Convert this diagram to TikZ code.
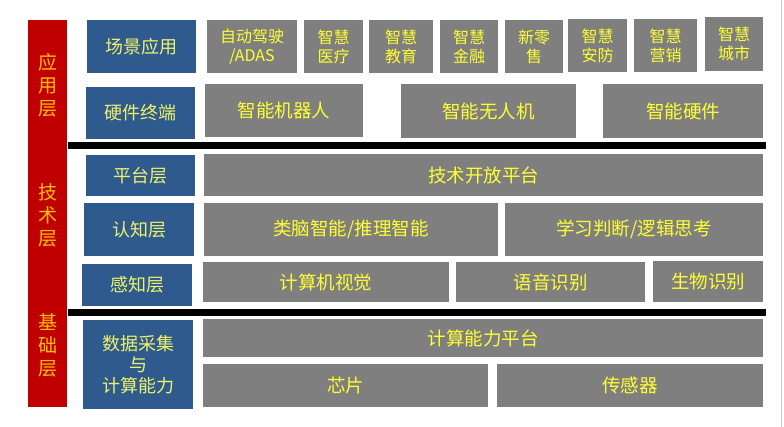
\documentclass[tikz,border=0pt]{standalone}
\usepackage{fontspec}
\setmainfont{Noto Sans CJK SC}
\definecolor{barred}{HTML}{C00000}
\definecolor{laybl}{HTML}{2F5A8E}
\definecolor{boxgr}{HTML}{7F7F7F}
\definecolor{txtyl}{HTML}{FFFF33}
\definecolor{txtbl}{HTML}{EEF26A}
\definecolor{txtor}{HTML}{FFC000}
\tikzset{
    layer/.style={fill=laybl, text=txtbl, inner sep=0pt, align=center, font=\fontsize{18}{21}\selectfont},
    part/.style={fill=boxgr, text=txtyl, inner sep=0pt, align=center, font=\fontsize{18.5}{21}\selectfont},
    small/.style={part, font=\fontsize{16}{19}\selectfont},
    tier/.style={text=txtor, align=center, font=\fontsize{19}{23}\selectfont},
    sepline/.style={line width=7pt}
}

\begin{document}
\begin{tikzpicture}[x=1pt, y=-1pt]
    \useasboundingbox (0,0) rectangle (784,427);

    % red bar with the three tiers
    \node[fill=barred, minimum width=39, minimum height=387, inner sep=0pt] (bar) at (47.5,213.5) {};
    \node[tier] (app) at (47.5,85) {应\\用\\层};
    \node[tier] (tech) at (47.5,215) {技\\术\\层};
    \node[tier] (base) at (47.5,345) {基\\础\\层};

    % blue layer names
    \node[layer, minimum width=109, minimum height=53] (scene) at (141.5,46.5) {场景应用};
    \node[layer, minimum width=109, minimum height=52] (hard) at (140.5,113) {硬件终端};
    \node[layer, minimum width=109, minimum height=41] (plat) at (140.5,175.5) {平台层};
    \node[layer, minimum width=110, minimum height=53] (cogn) at (139,229.5) {认知层};
    \node[layer, minimum width=110, minimum height=42] (perc) at (137,285) {感知层};
    \node[layer, minimum width=110, minimum height=89] (data) at (138,364.5) {数据采集\\与\\计算能力};

    % scenes
    \node[small, minimum width=90, minimum height=53] (adas) at (252,46.5) {自动驾驶\\/ADAS};
    \node[small, minimum width=59, minimum height=53] (med) at (333.5,46.5) {智慧\\医疗};
    \node[small, minimum width=64, minimum height=53] (edu) at (401,46.5) {智慧\\教育};
    \node[small, minimum width=58, minimum height=53] (fin) at (469,46.5) {智慧\\金融};
    \node[small, minimum width=58, minimum height=53] (retail) at (534,46.5) {新零\\售};
    \node[small, minimum width=59, minimum height=53] (secu) at (597.5,45.5) {智慧\\安防};
    \node[small, minimum width=63, minimum height=53] (mkt) at (665.5,45.5) {智慧\\营销};
    \node[small, minimum width=58, minimum height=54] (city) at (734,44) {智慧\\城市};

    % terminals
    \node[part, minimum width=158, minimum height=53] (robot) at (284,110.5) {智能机器人};
    \node[part, minimum width=175, minimum height=54] (drone) at (488.5,111) {智能无人机};
    \node[part, minimum width=160, minimum height=54] (device) at (683,111) {智能硬件};

    % technology
    \node[part, minimum width=559, minimum height=42] (open) at (483.5,175) {技术开放平台};
    \node[part, minimum width=294, minimum height=53] (brain) at (351,229.5) {类脑智能/推理智能};
    \node[part, minimum width=258, minimum height=53] (learn) at (634,229.5) {学习判断/逻辑思考};
    \node[part, minimum width=246, minimum height=40] (vision) at (326,282) {计算机视觉};
    \node[part, minimum width=189, minimum height=40] (speech) at (550.5,282) {语音识别};
    \node[part, minimum width=110, minimum height=41] (bio) at (708,281.5) {生物识别};

    % base
    \node[part, minimum width=560, minimum height=38] (compute) at (483,338) {计算能力平台};
    \node[part, minimum width=285, minimum height=43] (chip) at (345.5,385.5) {芯片};
    \node[part, minimum width=266, minimum height=43] (sensor) at (630,385.5) {传感器};

    % separators
    \draw[sepline] (68,145.5) -- (766,145.5);
    \draw[sepline] (68,312.5) -- (766,312.5);
    \draw[black!20, line width=1pt] (781,0) -- (781,427);
\end{tikzpicture}
\end{document}
